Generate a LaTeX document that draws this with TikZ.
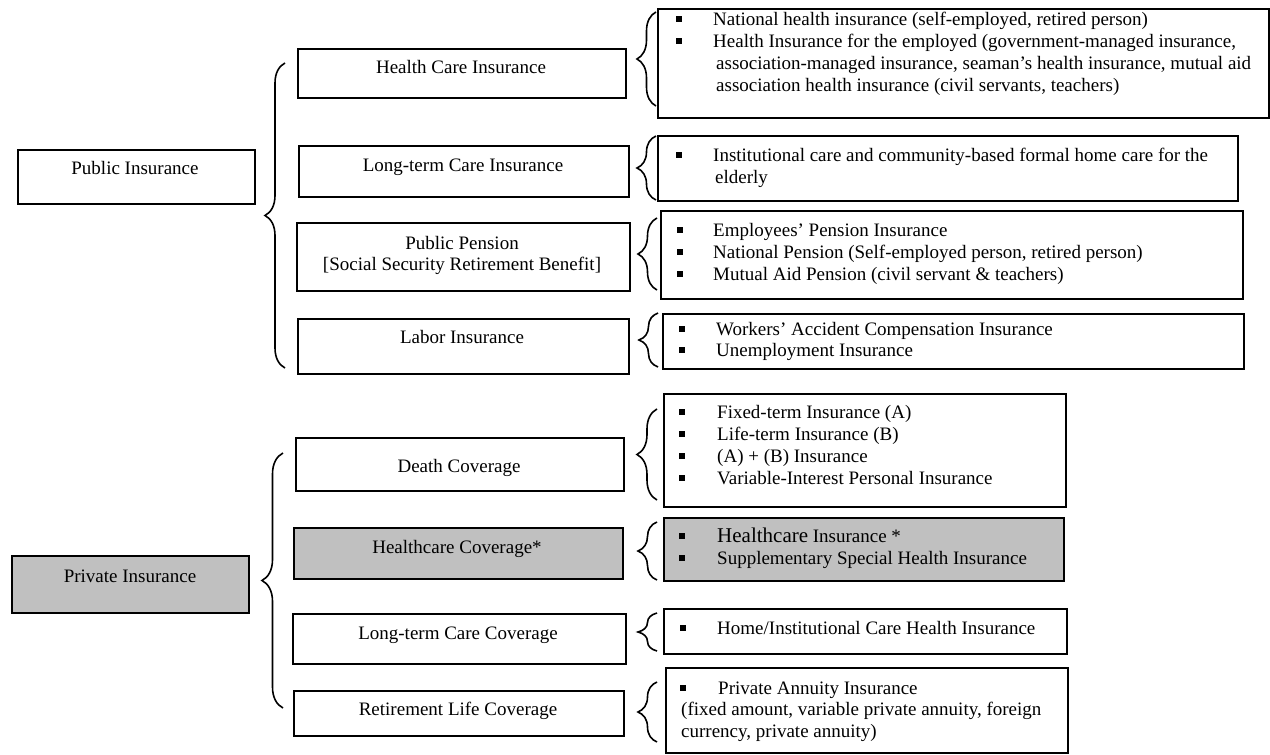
\documentclass[tikz,border=0pt]{standalone}
\usepackage{fontspec}
\setmainfont{Liberation Serif}
\usetikzlibrary{decorations.pathreplacing}
\definecolor{shade}{HTML}{C0C0C0}
\newcommand\sqbul[2]{\fill (#1-2.6,#2-2.6) rectangle ++(5.2,5.2);}
\begin{document}
\begin{tikzpicture}[x=1pt,y=-1pt,
  box/.style={draw, line width=2pt, inner sep=0pt, anchor=north west},
  gbox/.style={box, fill=shade},
  lbl/.style={font=\fontsize{19}{22}\selectfont, inner sep=0pt, anchor=mid, yshift=-4.5pt},
  item/.style={font=\fontsize{19}{22}\selectfont, inner sep=0pt, anchor=mid west, yshift=-4.5pt},
  brc/.style={line width=1.6pt, decorate, decoration={brace, amplitude=#1}}]
\useasboundingbox (0,0) rectangle (1270,755);
\fill[white] (0,0) rectangle (1270,755);

% ---------- left boxes ----------
\node[box, minimum width=237pt, minimum height=54pt] (pub) at (17,149) {};
\node[lbl] (pubt) at (135,168) {Public Insurance};
\node[gbox, minimum width=237pt, minimum height=57pt] (pri) at (11,555) {};
\node[lbl] (prit) at (130,576) {Private Insurance};

% ---------- middle boxes ----------
\node[box, minimum width=328pt, minimum height=49pt] (hc) at (297,48) {};
\node[lbl] (hct) at (461,67) {Health Care Insurance};
\node[box, minimum width=330pt, minimum height=51pt] (ltc) at (298,145) {};
\node[lbl] (ltct) at (463,165) {Long-term Care Insurance};
\node[box, minimum width=333pt, minimum height=68pt] (pp) at (296,222) {};
\node[lbl] (ppt1) at (462,243) {Public Pension};
\node[lbl] (ppt2) at (462,264) {[Social Security Retirement Benefit]};
\node[box, minimum width=331pt, minimum height=55pt] (lab) at (297,318) {};
\node[lbl] (labt) at (462,337) {Labor Insurance};

\node[box, minimum width=328pt, minimum height=53pt] (dc) at (295,437) {};
\node[lbl] (dct) at (459,466) {Death Coverage};
\node[gbox, minimum width=329pt, minimum height=51pt] (hcc) at (293,527) {};
\node[lbl] (hcct) at (457,547) {Healthcare Coverage*};
\node[box, minimum width=333pt, minimum height=50pt] (ltcc) at (292,613) {};
\node[lbl] (ltcct) at (458,633) {Long-term Care Coverage};
\node[box, minimum width=330pt, minimum height=45pt] (rlc) at (293,690) {};
\node[lbl] (rlct) at (458,709) {Retirement Life Coverage};

% ---------- detail boxes ----------
\node[box, minimum width=611pt, minimum height=109pt] (d1) at (657,8) {};
\sqbul{679}{19}
\node[item] (d1a) at (713,19) {National health insurance (self-employed, retired person)};
\sqbul{679}{41}
\node[item] (d1b) at (713,41) {Health Insurance for the employed (government-managed insurance,};
\node[item] (d1c) at (716,63) {association-managed insurance, seaman’s health insurance, mutual aid};
\node[item] (d1d) at (716,85) {association health insurance (civil servants, teachers)};

\node[box, minimum width=580pt, minimum height=65pt] (d2) at (657,135) {};
\sqbul{679}{155}
\node[item] (d2a) at (713,155) {Institutional care and community-based formal home care for the};
\node[item] (d2b) at (715,177) {elderly};

\node[box, minimum width=582pt, minimum height=88pt] (d3) at (660,210) {};
\sqbul{680}{230}
\node[item] (d3a) at (713,230) {Employees’ Pension Insurance};
\sqbul{680}{252}
\node[item] (d3b) at (713,252) {National Pension (Self-employed person, retired person)};
\sqbul{680}{274}
\node[item] (d3c) at (713,274) {Mutual Aid Pension (civil servant \& teachers)};

\node[box, minimum width=581pt, minimum height=55pt] (d4) at (662,313) {};
\sqbul{682}{329}
\node[item] (d4a) at (716,329) {Workers’ Accident Compensation Insurance};
\sqbul{682}{350}
\node[item] (d4b) at (716,350) {Unemployment Insurance};

\node[box, minimum width=402pt, minimum height=113pt] (d5) at (663,393) {};
\sqbul{682}{412}
\node[item] (d5a) at (717,412) {Fixed-term Insurance (A)};
\sqbul{682}{434}
\node[item] (d5b) at (717,434) {Life-term Insurance (B)};
\sqbul{682}{456}
\node[item] (d5c) at (717,456) {(A) + (B) Insurance};
\sqbul{682}{478}
\node[item] (d5d) at (717,478) {Variable-Interest Personal Insurance};

\node[gbox, minimum width=400pt, minimum height=63pt] (d6) at (663,517) {};
\sqbul{682}{536}
\node[item] (d6a) at (717,536) {{\fontsize{21}{22}\selectfont Healthcare} Insurance *};
\sqbul{682}{558}
\node[item] (d6b) at (717,558) {Supplementary Special Health Insurance};

\node[box, minimum width=403pt, minimum height=45pt] (d7) at (663,608) {};
\sqbul{683}{628}
\node[item] (d7a) at (717,628) {Home/Institutional Care Health Insurance};

\node[box, minimum width=402pt, minimum height=85pt] (d8) at (665,667) {};
\sqbul{683}{688}
\node[item] (d8a) at (718,688) {Private Annuity Insurance};
\node[item] (d8b) at (681,709) {(fixed amount, variable private annuity, foreign};
\node[item] (d8c) at (681,731) {currency, private annuity)};

% ---------- braces ----------
\coordinate (pubB) at (285,368); \coordinate (pubT) at (285,63);
\draw[brc=20] (pubB) -- (pubT);
\coordinate (priB) at (283,708); \coordinate (priT) at (283,453);
\draw[brc=21] (priB) -- (priT);

\coordinate (b1B) at (656,106); \coordinate (b1T) at (656,12);
\draw[brc=19] (b1B) -- (b1T);
\coordinate (b2B) at (656,200); \coordinate (b2T) at (656,136);
\draw[brc=19] (b2B) -- (b2T);
\coordinate (b3B) at (657,290); \coordinate (b3T) at (657,218);
\draw[brc=19] (b3B) -- (b3T);
\coordinate (b4B) at (658,367); \coordinate (b4T) at (658,313);
\draw[brc=19] (b4B) -- (b4T);
\coordinate (b5B) at (657,500); \coordinate (b5T) at (657,409);
\draw[brc=20] (b5B) -- (b5T);
\coordinate (b6B) at (657,580); \coordinate (b6T) at (657,522);
\draw[brc=19] (b6B) -- (b6T);
\coordinate (b7B) at (657,651); \coordinate (b7T) at (657,613);
\draw[brc=19] (b7B) -- (b7T);
\coordinate (b8B) at (657,742); \coordinate (b8T) at (657,682);
\draw[brc=19] (b8B) -- (b8T);
\end{tikzpicture}
\end{document}
